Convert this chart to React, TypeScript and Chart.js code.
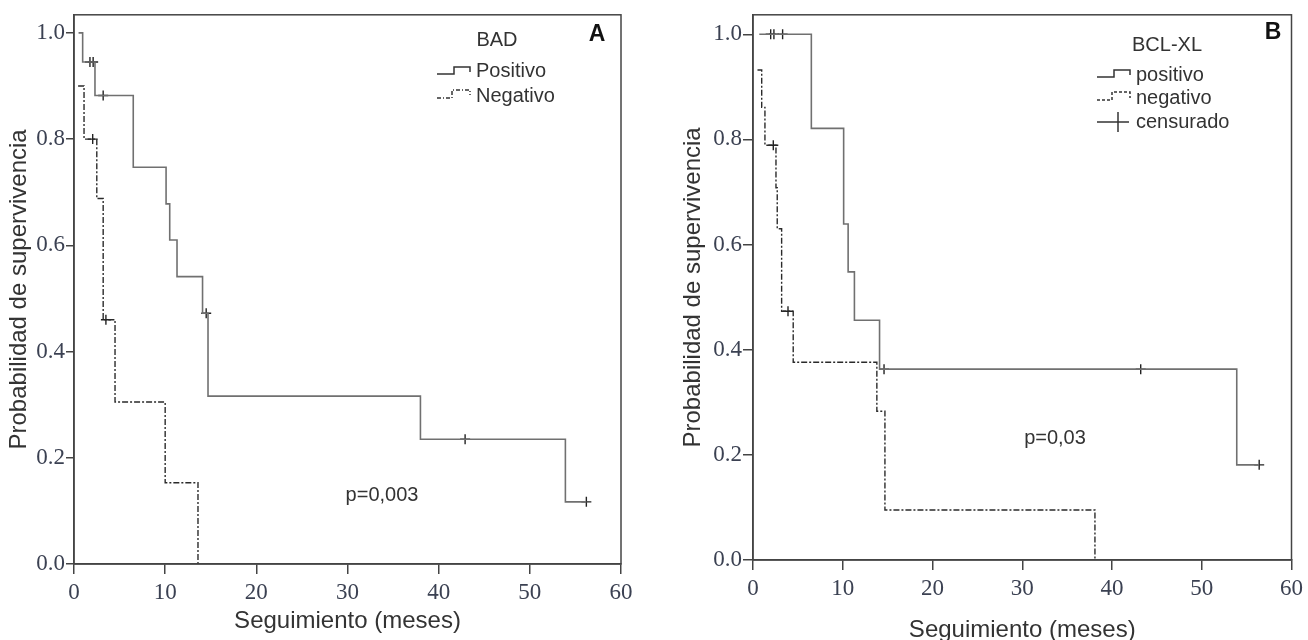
import React, { useEffect, useRef } from "react";
import { Chart, registerables } from "chart.js";

Chart.register(...registerables);

// ---------- Data ----------
// Panel A: BAD
const A_POS_T = [0.5, 0.95, 2.3, 6.5, 10.1, 10.5, 11.3, 14.1, 14.7, 38.0, 53.9, 56.2];
const A_POS_S = [1.0, 0.945, 0.882, 0.747, 0.678, 0.61, 0.541, 0.472, 0.316, 0.235, 0.117, 0.117];
const A_POS_CENS_T = [1.75, 2.1, 3.2, 14.5, 42.9, 56.2];
const A_POS_CENS_S = [0.945, 0.945, 0.882, 0.472, 0.235, 0.117];
const A_NEG_T = [0.45, 1.1, 2.5, 3.2, 4.5, 10.0, 13.6];
const A_NEG_S = [0.9, 0.8, 0.688, 0.46, 0.305, 0.153, 0.0];
const A_NEG_CENS_T = [2.05, 3.5];
const A_NEG_CENS_S = [0.8, 0.46];

// Panel B: BCL-XL
const B_POS_T = [0.7, 6.5, 10.1, 10.6, 11.3, 14.1, 53.9, 56.4];
const B_POS_S = [1.0, 0.821, 0.639, 0.548, 0.456, 0.363, 0.181, 0.181];
const B_POS_CENS_T = [1.97, 2.33, 3.3, 14.6, 43.2, 56.4];
const B_POS_CENS_S = [1.0, 1.0, 1.0, 0.363, 0.363, 0.181];
const B_NEG_T = [0.5, 0.97, 1.33, 2.56, 2.7, 3.19, 4.48, 13.8, 14.7, 38.1];
const B_NEG_S = [0.932, 0.861, 0.789, 0.708, 0.63, 0.473, 0.376, 0.283, 0.095, 0.0];
const B_NEG_CENS_T = [2.26, 3.9];
const B_NEG_CENS_S = [0.789, 0.473];

const X_TICK_STEP = 10;
const Y_TICK_STEP = 0.2;
const X_TITLE = "Seguimiento (meses)";
const Y_TITLE = "Probabilidad de supervivencia";

// ---------- Styles ----------
const SANS = '"Liberation Sans", Arial, Helvetica, sans-serif';
const SERIF = '"Liberation Serif", "Times New Roman", serif';
const TICK_COLOR = "#3b4152";
const TEXT_COLOR = "#333333";
const AXIS_COLOR = "#444444";
const POS_COLOR = "#707070";
const NEG_COLOR = "#2a2a2a";
const NEG_DASH = [6, 2, 2, 2];

const zip = (t: number[], s: number[]) => t.map((x, i) => ({ x, y: s[i] }));

const decorPlugin = {
  id: "kmDecor",
  afterDraw(chart: any, _args: any, opts: any) {
    const ctx = chart.ctx as CanvasRenderingContext2D;
    const { left, top, right, bottom } = chart.chartArea;
    ctx.save();
    ctx.strokeStyle = AXIS_COLOR;
    ctx.lineWidth = 1.5;
    ctx.setLineDash([]);
    ctx.strokeRect(left, top, right - left, bottom - top);
    for (const s of opts.symbols || []) {
      ctx.beginPath();
      ctx.strokeStyle = s.color;
      ctx.lineWidth = s.width || 1.5;
      ctx.setLineDash(s.dash || []);
      s.pts.forEach((p: number[], i: number) => (i === 0 ? ctx.moveTo(p[0], p[1]) : ctx.lineTo(p[0], p[1])));
      ctx.stroke();
    }
    ctx.setLineDash([]);
    for (const t of opts.texts || []) {
      ctx.font = t.font;
      ctx.fillStyle = t.color || TEXT_COLOR;
      ctx.textAlign = t.align || "left";
      ctx.textBaseline = "middle";
      ctx.fillText(t.text, t.x, t.y);
    }
    ctx.restore();
  },
};

type PanelCfg = {
  pos: { x: number; y: number }[];
  posCens: { x: number; y: number }[];
  neg: { x: number; y: number }[];
  negCens: { x: number; y: number }[];
  yMax: number;
  yAxisWidth: number;
  xAxisHeight: number;
  padding: { top: number; right: number; left: number; bottom: number };
  yTickLen: number;
  xTickLen: number;
  yTitlePad: number;
  xTitlePad: number;
  xTitleLineHeight: number;
  decor: any;
};

function makeConfig(p: PanelCfg): any {
  const censDs = (data: any[]) => ({
    data,
    showLine: false,
    pointStyle: "cross",
    pointRadius: 5,
    pointBorderColor: "#222",
    pointBorderWidth: 1.4,
    borderColor: "#222",
  });
  return {
    type: "line",
    data: {
      datasets: [
        {
          data: p.pos,
          stepped: "before",
          borderColor: POS_COLOR,
          borderWidth: 1.6,
          pointRadius: 0,
          fill: false,
        },
        {
          data: p.neg,
          stepped: "before",
          borderColor: NEG_COLOR,
          borderWidth: 1.4,
          borderDash: NEG_DASH,
          pointRadius: 0,
          fill: false,
        },
        censDs(p.posCens),
        censDs(p.negCens),
      ],
    },
    options: {
      responsive: false,
      animation: false,
      devicePixelRatio: 1,
      layout: { padding: p.padding },
      plugins: {
        legend: { display: false },
        tooltip: { enabled: false },
        kmDecor: p.decor,
      },
      scales: {
        x: {
          type: "linear",
          min: 0,
          max: 60,
          afterFit: (s: any) => {
            s.height = p.xAxisHeight;
          },
          ticks: {
            stepSize: X_TICK_STEP,
            font: { family: SERIF, size: 23 },
            color: TICK_COLOR,
            padding: 5,
            maxRotation: 0,
          },
          grid: {
            drawOnChartArea: false,
            drawTicks: true,
            tickLength: p.xTickLen,
            color: AXIS_COLOR,
            lineWidth: 1.5,
          },
          border: { display: true, color: AXIS_COLOR, width: 1.5 },
          title: {
            display: true,
            text: X_TITLE,
            font: { family: SANS, size: 24, lineHeight: p.xTitleLineHeight },
            color: TEXT_COLOR,
            padding: { top: 0, bottom: p.xTitlePad },
          },
        },
        y: {
          type: "linear",
          min: 0,
          max: p.yMax,
          afterFit: (s: any) => {
            s.width = p.yAxisWidth;
          },
          ticks: {
            stepSize: Y_TICK_STEP,
            includeBounds: false,
            font: { family: SERIF, size: 23 },
            color: TICK_COLOR,
            padding: 1,
            callback: (v: any) => Number(v).toFixed(1),
          },
          grid: {
            drawOnChartArea: false,
            drawTicks: true,
            tickLength: p.yTickLen,
            color: AXIS_COLOR,
            lineWidth: 1.5,
          },
          border: { display: true, color: AXIS_COLOR, width: 1.5 },
          title: {
            display: true,
            text: Y_TITLE,
            font: { family: SANS, size: 24 },
            color: TEXT_COLOR,
            padding: { top: p.yTitlePad, bottom: 0 },
          },
        },
      },
    },
    plugins: [decorPlugin],
  };
}

const F_LEG = `20px ${SANS}`;
const F_BIG = `bold 23px ${SANS}`;

const panelA: PanelCfg = {
  pos: zip(A_POS_T, A_POS_S),
  posCens: zip(A_POS_CENS_T, A_POS_CENS_S),
  neg: zip(A_NEG_T, A_NEG_S),
  negCens: zip(A_NEG_CENS_T, A_NEG_CENS_S),
  yMax: 1.034,
  yAxisWidth: 74,
  xAxisHeight: 76,
  padding: { top: 12, right: 29, left: 0, bottom: 0 },
  yTickLen: 8,
  xTickLen: 10,
  yTitlePad: 5,
  xTitlePad: 4,
  xTitleLineHeight: 1.2,
  decor: {
    symbols: [
      { color: "#333", pts: [[437, 74], [454, 74], [454, 67], [470, 67], [470, 72]] },
      { color: "#333", dash: [4, 2, 1, 2], pts: [[437, 98], [452, 98], [452, 90], [470, 90], [470, 95]] },
    ],
    texts: [
      { text: "BAD", x: 497, y: 40, font: F_LEG, align: "center" },
      { text: "Positivo", x: 476, y: 71, font: F_LEG },
      { text: "Negativo", x: 476, y: 96, font: F_LEG },
      { text: "A", x: 597, y: 35, font: F_BIG, align: "center", color: "#111" },
      { text: "p=0,003", x: 382, y: 495, font: F_LEG, align: "center" },
    ],
  },
};

const panelB: PanelCfg = {
  pos: zip(B_POS_T, B_POS_S),
  posCens: zip(B_POS_CENS_T, B_POS_CENS_S),
  neg: zip(B_NEG_T, B_NEG_S),
  negCens: zip(B_NEG_CENS_T, B_NEG_CENS_S),
  yMax: 1.037,
  yAxisWidth: 93,
  xAxisHeight: 80,
  padding: { top: 13, right: 15, left: 0, bottom: 0 },
  yTickLen: 10,
  xTickLen: 10,
  yTitlePad: 19,
  xTitlePad: -2,
  xTitleLineHeight: 1.0,
  decor: {
    symbols: [
      { color: "#333", pts: [[437, 77], [454, 77], [454, 70], [470, 70], [470, 75]] },
      { color: "#333", dash: [3, 2], pts: [[437, 100], [452, 100], [452, 92], [470, 92], [470, 98]] },
      { color: "#333", pts: [[437, 122], [469, 122]] },
      { color: "#333", pts: [[458, 112], [458, 132]] },
    ],
    texts: [
      { text: "BCL-XL", x: 507, y: 45, font: F_LEG, align: "center" },
      { text: "positivo", x: 476, y: 75, font: F_LEG },
      { text: "negativo", x: 476, y: 98, font: F_LEG },
      { text: "censurado", x: 476, y: 122, font: F_LEG },
      { text: "B", x: 613, y: 33, font: F_BIG, align: "center", color: "#111" },
      { text: "p=0,03", x: 395, y: 438, font: F_LEG, align: "center" },
    ],
  },
};

function Panel({ cfg, left, width }: { cfg: PanelCfg; left: number; width: number }) {
  const ref = useRef<HTMLCanvasElement | null>(null);
  useEffect(() => {
    if (!ref.current) return;
    const chart = new Chart(ref.current, makeConfig(cfg));
    return () => chart.destroy();
  }, [cfg]);
  return (
    <canvas
      ref={ref}
      width={width}
      height={640}
      style={{ position: "absolute", left, top: 0, width, height: 640 }}
    />
  );
}

export default function App() {
  return (
    <div
      style={{
        position: "absolute",
        left: 0,
        top: 0,
        width: 1308,
        height: 640,
        background: "#ffffff",
        overflow: "hidden",
      }}
    >
      <Panel cfg={panelA} left={0} width={650} />
      <Panel cfg={panelB} left={660} width={648} />
    </div>
  );
}
